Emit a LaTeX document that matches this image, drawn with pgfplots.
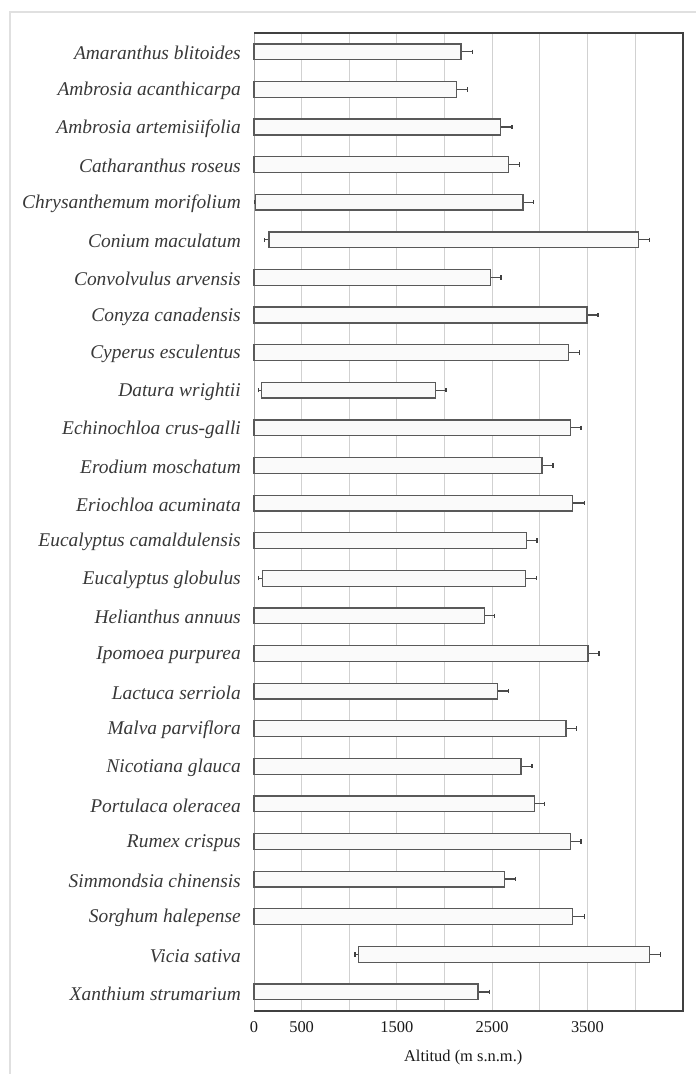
\documentclass[border=0pt]{standalone}
\usepackage{fontspec}
\setmainfont{Liberation Serif}
\usepackage{graphicx}
\usepackage{pgfplots}
\usepackage{pgfplotstable}
\pgfplotsset{compat=1.18}

% start / end of altitudinal range (m s.n.m.), right error
\pgfplotstableread{
start end errR
0    2174 119
0    2122 119
0    2591 116
0    2668 119
18   2822 112
158  4037 112
0    2482 112
0    3494 116
0    3302 116
81   1905 109
0    3319 112
0    3022 116
0    3343 123
0    2860 109
88   2847 116
0    2419 105
0    3505 116
0    2556 116
0    3274 112
0    2801 116
0    2941 109
0    3319 112
0    2629 116
0    3343 123
1096 4153 112
0    2350 119
}\datatable

\pgfplotstableread{
idx start errL
4  18   16
5  158  50
9  81   36
14 88   38
24 1096 35
}\lefterr

\begin{document}
\begin{tikzpicture}[x=1bp,y=1bp]
\useasboundingbox (0,0) rectangle (696,1074);
\draw[black!12, line width=1.5bp] (10,0) -- (10,1062) -- (696,1062);
\begin{axis}[
  at={(254bp,63.3bp)}, anchor=south west,
  scale only axis, width=428.7bp, height=977.7bp,
  xmin=0, xmax=4500, ymin=-0.5, ymax=25.5, y dir=reverse,
  xbar stacked, bar width=0.42,
  clip=false,
  xtick={0,500,...,4000},
  xticklabels={0,500,,1500,,2500,,3500,},
  ytick={0,...,25},
  yticklabels={Amaranthus blitoides,Ambrosia acanthicarpa,Ambrosia artemisiifolia,Catharanthus roseus,Chrysanthemum morifolium,Conium maculatum,Convolvulus arvensis,Conyza canadensis,Cyperus esculentus,Datura wrightii,Echinochloa crus-galli,Erodium moschatum,Eriochloa acuminata,Eucalyptus camaldulensis,Eucalyptus globulus,Helianthus annuus,Ipomoea purpurea,Lactuca serriola,Malva parviflora,Nicotiana glauca,Portulaca oleracea,Rumex crispus,Simmondsia chinensis,Sorghum halepense,Vicia sativa,Xanthium strumarium},
  major tick length=0,
  xmajorgrids, grid style={black!18, line width=0.9bp},
  axis line style={draw=none},
  /pgf/number format/assume math mode=true,
  yticklabel style={font=\itshape\fontsize{19.5}{20}\selectfont, text=black!78, inner sep=0pt, xshift=-13bp, yshift=-1.5bp},
  xticklabel style={font=\fontsize{16.5}{16}\selectfont, text=black!90, inner sep=0pt, yshift=-11bp},
  xlabel={Altitud (m s.n.m.)},
  x label style={at={(axis description cs:0.488,0)}, anchor=base, yshift=-51bp, font=\fontsize{16.5}{16}\selectfont, text=black!90},
]
\addplot[draw=none, fill=none] table[x=start, y expr=\coordindex] {\datatable};
\addplot[draw=black!65, fill=black!2, line width=1.3bp] table[x expr=\thisrow{end}-\thisrow{start}, y expr=\coordindex] {\datatable};

\addplot[stack plots=false, draw=none, fill=none,
  error bars/.cd, x dir=plus, x explicit,
  error bar style={draw=black!70, line width=1.2bp},
  error mark options={draw=black!75, rotate=90, mark size=2.2bp, line width=1.3bp}]
  table[x=end, y expr=\coordindex, x error=errR] {\datatable};

\addplot[stack plots=false, draw=none, fill=none,
  error bars/.cd, x dir=minus, x explicit,
  error bar style={draw=black!70, line width=1.2bp},
  error mark options={draw=black!75, rotate=90, mark size=2.2bp, line width=1.3bp}]
  table[x=start, y=idx, x error=errL] {\lefterr};

\draw[black!75, line width=1.8bp] (axis description cs:0,1) -- (axis description cs:1,1) -- (axis description cs:1,0) -- (axis description cs:0,0);
\draw[black!35, line width=1bp] (axis description cs:0,0) -- (axis description cs:0,1);
\end{axis}
\end{tikzpicture}
\end{document}
